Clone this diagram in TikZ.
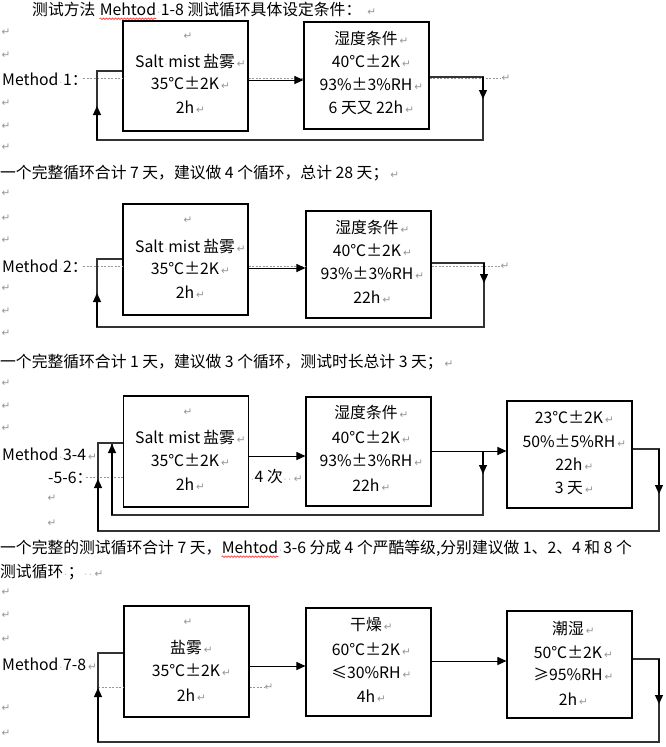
\documentclass[tikz,border=0pt]{standalone}
\usepackage{fontspec}
\setmainfont{Noto Sans CJK SC}
\newfontfamily\dvfont{DejaVu Sans}
\usetikzlibrary{arrows.meta,decorations.pathmorphing}
\definecolor{pmgray}{RGB}{150,150,150}
\newcommand\retmark{\rlap{\hspace{2pt}\textcolor{pmgray}{\dvfont\fontsize{10.5}{10.5}\selectfont ↵}}}
\newcommand\sd{\makebox[4.5pt]{\textcolor{pmgray}{\dvfont\fontsize{8}{8}\selectfont ·}}}
\tikzset{
  box/.style={draw=black,line width=1.1pt,inner sep=0pt,minimum width=125pt,minimum height=#1},
  txt/.style={inner sep=0pt,font=\fontsize{15.8}{18}\selectfont,anchor=base},
  ltxt/.style={inner sep=0pt,font=\fontsize{15.8}{18}\selectfont,anchor=base west},
  pm/.style={inner sep=0pt,font=\dvfont\fontsize{10.5}{10.5}\selectfont,text=pmgray},
  arr/.style={-{Triangle[length=9pt,width=8pt]},line width=1pt,draw=black},
  lp/.style={line width=1.2pt,draw=black!80,line join=miter},
  larr/.style={line width=1.2pt,draw=black,-{Triangle[length=9pt,width=8pt]}},
  dotl/.style={draw=pmgray,line width=0.6pt,dash pattern=on 2pt off 1.5pt},
  wavy/.style={draw=red,line width=0.5pt,decorate,decoration={snake,amplitude=0.8pt,segment length=3pt}},
}
\begin{document}
\begin{tikzpicture}[x=1pt,y=-1pt]
\useasboundingbox (0,0) rectangle (666,747);
\fill[white] (0,0) rectangle (666,747);

% ---------- paragraph marks in the left margin ----------
\foreach \yy [count=\i] in {32,55,103,126,147,193,218,240,288,311,333,383,406,428,592,615,639,708,733}
  \node[pm] (lm\i) at (6,\yy) {↵};
\node[pm] (lm20) at (52,498) {↵};
\node[pm] (lm21) at (52,523) {↵};

% ---------- title ----------
\node[ltxt] (t1) at (32,15.7) {测试方法};
\node[ltxt] (t2) at ([xshift=4pt]t1.base east) {Mehtod};
\node[ltxt] (t3) at (t2.base east) {\sd 1-8 测试循环具体设定条件：\hspace{4pt}\retmark};
\draw[wavy] ([yshift=-3pt]t2.base west) -- ([yshift=-3pt]t2.base east);

% ================= Method 1 =================
\node[ltxt] (m1) at (2,85.7) {Method\sd 1：};
\node[box=110pt] (a1) at (185.5,76) {};
\node[box=107pt] (b1) at (366.5,75.5) {};
\node[pm] (a1p) at (188,36) {↵};
\node[txt] (a1l1) at (185,67.7) {Salt\sd mist\hspace{3pt}盐雾\retmark};
\node[txt] (a1l2) at (185,89.7) {35℃±2K\retmark};
\node[txt] (a1l3) at (185,113.7) {2h\retmark};
\node[txt] (b1l1) at (366,44.7) {湿度条件\retmark};
\node[txt] (b1l2) at (366,67.7) {40℃±2K\retmark};
\node[txt] (b1l3) at (366,90.7) {93\%±3\%RH\retmark};
\node[txt] (b1l4) at (366,113.7) {6 天又 22h\retmark};
\coordinate (d1) at (83,78);
\coordinate (d1e) at (501,78);
\draw[dotl] (d1) -- (d1 -| a1.west);
\draw[dotl] (a1.east |- d1) -- (b1.west |- d1);
\draw[dotl] (b1.east |- d1) -- (d1e);
\node[pm] (p1) at (506,78) {↵};
\coordinate (k1) at (0,80);
\draw[arr] (a1.east |- k1) -- (b1.west |- k1);
\coordinate (r1t) at (483,77);
\coordinate (r1m) at (483,99);
\coordinate (r1b) at (483,140);
\coordinate (l1b) at (97,140);
\coordinate (l1m) at (97,106);
\coordinate (l1t) at (97,71);
\draw[lp] (b1.east |- r1t) -- (r1t) -- (r1b) -- (l1b) -- (l1t) -- (l1t -| a1.west);
\draw[larr] (r1t) -- (r1m);
\draw[larr] (l1b) -- (l1m);

\node[ltxt] (s1) at (0,178.7) {一个完整循环合计 7 天，建议做 4 个循环，总计 28 天；\retmark};

% ================= Method 2 =================
\node[ltxt] (m2) at (2,272.7) {Method\sd 2：};
\node[box=111pt] (a2) at (185.5,259.5) {};
\node[box=107pt] (b2) at (368.5,264.5) {};
\node[pm] (a2p) at (188,220) {↵};
\node[txt] (a2l1) at (185,252.7) {Salt\sd mist\hspace{3pt}盐雾\retmark};
\node[txt] (a2l2) at (185,274.7) {35℃±2K\retmark};
\node[txt] (a2l3) at (185,298.7) {2h\retmark};
\node[txt] (b2l1) at (367,233.7) {湿度条件\retmark};
\node[txt] (b2l2) at (367,256.7) {40℃±2K\retmark};
\node[txt] (b2l3) at (367,279.7) {93\%±3\%RH\retmark};
\node[txt] (b2l4) at (367,303.7) {22h\retmark};
\coordinate (d2) at (83,266);
\coordinate (d2e) at (500,266);
\draw[dotl] (d2) -- (d2 -| a2.west);
\draw[dotl] (a2.east |- d2) -- (b2.west |- d2);
\draw[dotl] (b2.east |- d2) -- (d2e);
\node[pm] (p2) at (505,266) {↵};
\coordinate (k2) at (0,268);
\draw[arr] (a2.east |- k2) -- (b2.west |- k2);
\coordinate (r2t) at (484,263);
\coordinate (r2m) at (484,283);
\coordinate (r2b) at (484,327);
\coordinate (l2b) at (97,327);
\coordinate (l2m) at (97,293);
\coordinate (l2t) at (97,259);
\draw[lp] (b2.east |- r2t) -- (r2t) -- (r2b) -- (l2b) -- (l2t) -- (l2t -| a2.west);
\draw[larr] (r2t) -- (r2m);
\draw[larr] (l2b) -- (l2m);

\node[ltxt] (s2) at (0,367.7) {一个完整循环合计 1 天，建议做 3 个循环，测试时长总计 3 天；\retmark};

% ================= Method 3-4-5-6 =================
\node[ltxt] (m3) at (2,460.7) {Method\sd 3-4\retmark};
\node[ltxt] (m3b) at (48,483.7) {-5-6：};
\node[box=111pt] (a3) at (186,451.5) {};
\node[box=109pt] (b3) at (368.5,451.5) {};
\node[box=107pt] (c3) at (569.5,454.5) {};
\node[pm] (a3p) at (188,412) {↵};
\node[txt] (a3l1) at (185,443.7) {Salt\sd mist\hspace{3pt}盐雾\retmark};
\node[txt] (a3l2) at (185,466.7) {35℃±2K\retmark};
\node[txt] (a3l3) at (185,490.7) {2h\retmark};
\node[txt] (b3l1) at (366,418.7) {湿度条件\retmark};
\node[txt] (b3l2) at (366,443.7) {40℃±2K\retmark};
\node[txt] (b3l3) at (366,466.7) {93\%±3\%RH\retmark};
\node[txt] (b3l4) at (366,491.7) {22h\retmark};
\node[txt] (c3l1) at (569,423.7) {23℃±2K\retmark};
\node[txt] (c3l2) at (569,447.7) {50\%±5\%RH\retmark};
\node[txt] (c3l3) at (569,470.7) {22h\retmark};
\node[txt] (c3l4) at (569,493.7) {3 天\retmark};
\coordinate (d3) at (86,477);
\draw[dotl] (d3) -- (d3 -| a3.west);
\node[ltxt] (n4) at (250,482.7) {\sd 4 次\sd\sd\retmark};
\coordinate (k3a) at (0,456);
\draw[arr] (a3.east |- k3a) -- (b3.west |- k3a);
\coordinate (j3) at (483,451);
\draw[arr] (b3.east |- j3) -- (c3.west |- j3);
\coordinate (i3m) at (483,474);
\coordinate (i3b) at (483,515);
\coordinate (i3l) at (112,515);
\coordinate (i3t) at (112,444);
\draw[lp] (j3) -- (i3b) -- (i3l) -- (i3t);
\draw[larr] (i3l) -- (i3t);
\draw[larr] (j3) -- (i3m);
\coordinate (o3t) at (659,449);
\coordinate (o3m) at (659,494);
\coordinate (o3b) at (659,531);
\coordinate (o3l) at (98,531);
\coordinate (o3n) at (98,479);
\coordinate (o3u) at (98,443);
\draw[lp] (c3.east |- o3t) -- (o3t) -- (o3b) -- (o3l) -- (o3u) -- (o3u -| a3.west);
\draw[larr] (o3t) -- (o3m);
\draw[larr] (o3l) -- (o3n);

\node[ltxt] (s3a) at (0,553.7) {一个完整的测试循环合计 7 天，};
\node[ltxt] (s3b) at (s3a.base east) {Mehtod};
\node[ltxt] (s3c) at (s3b.base east) {\sd 3-6 分成 4 个严酷等级,分别建议做 1、2、4 和 8 个};
\draw[wavy] ([yshift=-3pt]s3b.base west) -- ([yshift=-3pt]s3b.base east);
\node[ltxt] (s3d) at (0,577.7) {测试循环\sd；\sd\sd\retmark};

% ================= Method 7-8 =================
\node[ltxt] (m4) at (2,670.7) {Method\sd 7-8\retmark};
\node[box=111pt] (a4) at (186.5,661.5) {};
\node[box=108pt] (b4) at (368.5,662) {};
\node[box=107pt] (c4) at (569.5,664.5) {};
\node[pm] (a4p) at (188,622) {↵};
\node[txt] (a4l1) at (186,653.7) {盐雾\retmark};
\node[txt] (a4l2) at (186,676.7) {35℃±2K\retmark};
\node[txt] (a4l3) at (186,701.7) {2h\retmark};
\node[txt] (b4l1) at (366,630.7) {干燥\retmark};
\node[txt] (b4l2) at (366,655.7) {60℃±2K\retmark};
\node[txt] (b4l3) at (366,678.7) {≤30\%RH\retmark};
\node[txt] (b4l4) at (366,702.7) {4h\retmark};
\node[txt] (c4l1) at (568,634.7) {潮湿\retmark};
\node[txt] (c4l2) at (568,658.7) {50℃±2K\retmark};
\node[txt] (c4l3) at (568,680.7) {≥95\%RH\retmark};
\node[txt] (c4l4) at (568,705.7) {2h\retmark};
\coordinate (d4) at (98,687);
\coordinate (d4e) at (264,687);
\draw[dotl] (d4) -- (d4 -| a4.west);
\draw[dotl] (a4.east |- d4) -- (d4e);
\node[pm] (p4) at (269,687) {↵};
\coordinate (k4a) at (0,666);
\draw[arr] (a4.east |- k4a) -- (b4.west |- k4a);
\coordinate (k4b) at (0,661);
\draw[arr] (b4.east |- k4b) -- (c4.west |- k4b);
\coordinate (o4t) at (659,659);
\coordinate (o4m) at (659,704);
\coordinate (o4b) at (659,742);
\coordinate (o4l) at (98,742);
\coordinate (o4n) at (98,688);
\coordinate (o4u) at (98,653);
\draw[lp] (c4.east |- o4t) -- (o4t) -- (o4b) -- (o4l) -- (o4u) -- (o4u -| a4.west);
\draw[larr] (o4t) -- (o4m);
\draw[larr] (o4l) -- (o4n);
\end{tikzpicture}
\end{document}
